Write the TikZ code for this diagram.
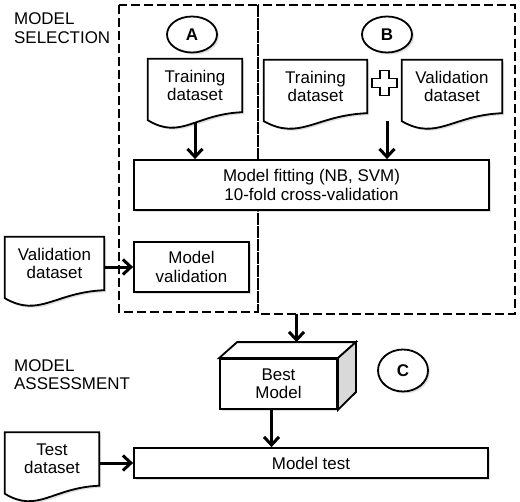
\documentclass[tikz,border=0pt]{standalone}
\usepackage{fontspec}
\setmainfont{Liberation Sans}
\usetikzlibrary{arrows.meta,positioning,calc,shapes.geometric,shadows,backgrounds}

\begin{document}
\begin{tikzpicture}[x=1bp, y=-1bp,
        font=\fontsize{17}{18.5}\selectfont,
        shade/.style={drop shadow={shadow xshift=2bp, shadow yshift=-2bp, fill=black!25}},
        box/.style={draw, line width=1.8bp, fill=white, shade, align=center, inner sep=0pt, minimum height=50bp},
        doc/.style={align=center, inner sep=0pt, minimum width=#1, minimum height=53bp},
        tag/.style={draw, ellipse, line width=1.8bp, fill=white, shade, inner sep=0pt, minimum width=50bp, minimum height=36bp, font=\fontsize{17}{18.5}\selectfont\bfseries},
        arr/.style={line width=3bp, -{Straight Barb[length=8bp, width=15bp]}},
        sel/.style={dash pattern=on 9bp off 4bp, line width=1.6bp}]
    \useasboundingbox (0,0) rectangle (520,502);

    % model selection
    \draw[sel] (119,5) rectangle (258,312);
    \draw[sel] (258,5) rectangle (515,314);
    \node[anchor=west, align=left, inner sep=0pt] (selection) at (14,28) {MODEL\\SELECTION};

    \node[tag] (tagA) at (192,34.5) {A};
    \node[tag] (tagB) at (387,34.5) {B};

    \node[doc=94bp] (trainA) at (195,85.5) {Training\\dataset};
    \node[doc=103bp] (trainB) at (315.5,86.5) {Training\\dataset};
    \node[doc=100bp] (valB) at (452,86.5) {Validation\\dataset};
    \coordinate (plus) at (384.5,83);
    \coordinate (join) at (387,121);

    \node[box, minimum width=355bp] (fit) at (311.5,185) {Model fitting (NB, SVM)\\10-fold cross-validation};
    \node[box, minimum width=115bp] (modval) at (191.5,267) {Model\\validation};
    \node[doc=99bp] (valdoc) at (54.5,263.5) {Validation\\dataset};

    % model assessment
    \node[anchor=west, align=left, inner sep=0pt] (assessment) at (14,374.5) {MODEL\\ASSESSMENT};
    \node[box, minimum width=117bp] (best) at (278.5,384) {Best\\Model};
    \node[tag, minimum height=42bp] (tagC) at (403,370.5) {C};
    \node[doc=94bp] (testdoc) at (52,459) {Test\\dataset};
    \node[box, minimum width=354bp, minimum height=30bp] (test) at (311,463) {Model test};

    % document outlines
    \begin{scope}[on background layer]
        \foreach \d in {trainA,trainB,valB,valdoc,testdoc}
            \draw[line width=1.8bp, fill=white, shade] (\d.north west) -- (\d.north east) -- (\d.south east)
                .. controls ($(\d.south east)!0.5!(\d.south west) + (0,2)$) and ($(\d.south west)!0.35!(\d.south east) + (0,28)$)
                .. ($(\d.south west) + (0,8)$) -- cycle;
    \end{scope}

    % plus sign
    \draw[line width=1.8bp, fill=white] (plus) ++(-4.5,-12.5) -- ++(9,0) -- ++(0,8) -- ++(8,0) -- ++(0,9) -- ++(-8,0)
        -- ++(0,8) -- ++(-9,0) -- ++(0,-8) -- ++(-8,0) -- ++(0,-9) -- ++(8,0) -- cycle;

    % box faces
    \draw[line width=1.8bp, fill=white] (best.north west) -- ++(18,-16) -- ([xshift=18bp,yshift=16bp]best.north east) -- (best.north east) -- cycle;
    \draw[line width=1.8bp, fill=black!15] (best.north east) -- ++(18,-16) -- ++(0,50) -- (best.south east) -- cycle;
    \coordinate (bestback) at ([xshift=18bp,yshift=16bp]best.north);
    \coordinate (bestout) at ([xshift=-7bp]best.south);
    \coordinate (selout) at (bestback |- 0,314);

    \draw[arr] ($(trainA.south) + (0,10)$) -- (trainA.south |- fit.north);
    \draw[arr] (join) -- (join |- fit.north);
    \draw[arr] (valdoc.east |- modval.west) -- (modval.west);
    \draw[arr] (selout) -- (bestback);
    \draw[arr] (bestout) -- (bestout |- test.north);
    \draw[arr] (testdoc.east |- test.west) -- (test.west);
\end{tikzpicture}
\end{document}
